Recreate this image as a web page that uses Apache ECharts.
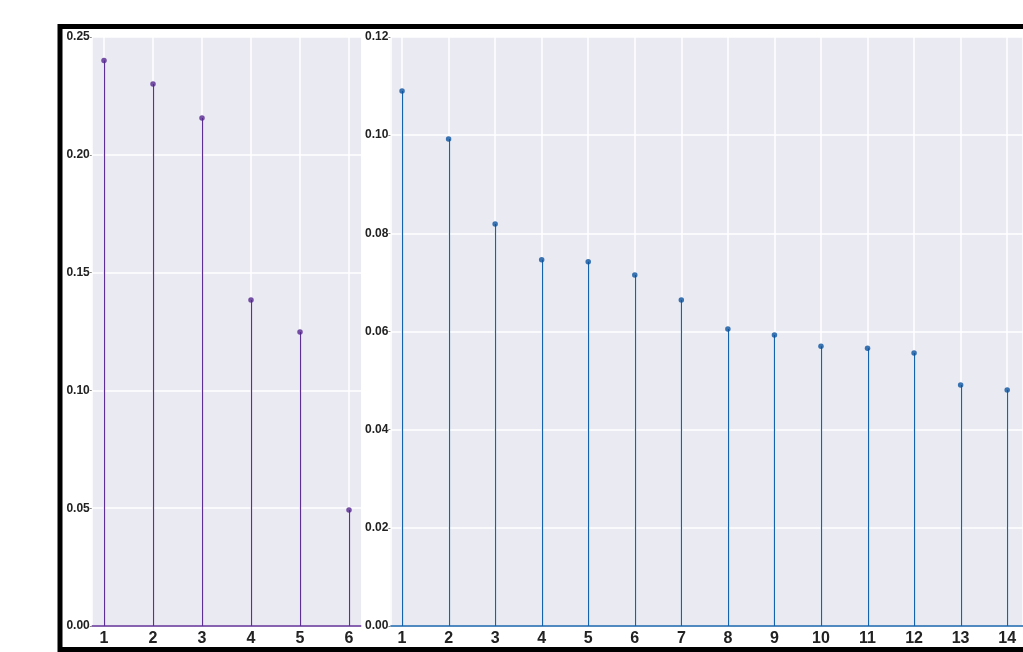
<!DOCTYPE html>
<html>
<head>
<meta charset="utf-8">
<script src="https://cdn.jsdelivr.net/npm/echarts@6/dist/echarts.min.js"></script>
<style>
html,body{margin:0;padding:0;background:#fff;}
#chart{width:1023px;height:652px;}
</style>
</head>
<body>
<div id="chart"></div>
<script>
// ---- data ----
const leftCategories = [1, 2, 3, 4, 5, 6];
const leftValues = [0.240, 0.230, 0.2156, 0.1384, 0.1248, 0.0492];
const rightCategories = [1, 2, 3, 4, 5, 6, 7, 8, 9, 10, 11, 12, 13, 14];
const rightValues = [0.1090, 0.0992, 0.0819, 0.0746, 0.0742, 0.0715, 0.0664, 0.0605, 0.0593, 0.0570, 0.0566, 0.0556, 0.0491, 0.0481];

const FONT = "'Liberation Sans Narrow', 'Arial Narrow', 'Liberation Sans', sans-serif";
const PURPLE = '#5f2f98', PURPLE_DOT = '#55268e';
const BLUE = '#1663ad', BLUE_DOT = '#0b539e';

function pairs(cats, vals) { return cats.map((c, i) => [c, vals[i]]); }

function stemSeries(idx, cats, vals, color, dot) {
  return [
    {
      type: 'custom', xAxisIndex: idx, yAxisIndex: idx, silent: true,
      data: pairs(cats, vals),
      renderItem: function (params, api) {
        const p0 = api.coord([api.value(0), 0]);
        const p1 = api.coord([api.value(0), api.value(1)]);
        const x = Math.round(p0[0]) + 0.5;
        return { type: 'line', shape: { x1: x, y1: p0[1], x2: x, y2: p1[1] },
                 style: { stroke: color, lineWidth: 1.2 } };
      },
      markLine: {
        silent: true, symbol: 'none', label: { show: false },
        lineStyle: { color: color, width: 1.5, type: 'solid' },
        data: [{ yAxis: 0 }]
      },
      z: 3
    },
    {
      type: 'scatter', xAxisIndex: idx, yAxisIndex: idx, silent: true,
      data: pairs(cats, vals), symbol: 'circle', symbolSize: 5.5,
      itemStyle: { color: dot }, z: 4
    }
  ];
}

function xAxis(idx, min, max) {
  return {
    type: 'value', gridIndex: idx, min: min, max: max,
    minInterval: 1, maxInterval: 1,
    axisLine: { show: false },
    axisTick: { show: false },
    splitLine: { show: true, lineStyle: { color: '#ffffff', width: 1.5 } },
    axisLabel: {
      showMinLabel: false, showMaxLabel: false, margin: 5,
      fontFamily: FONT, fontWeight: 'bold', fontSize: 16, color: '#222',
      formatter: v => (Math.abs(v - Math.round(v)) < 1e-9 ? String(Math.round(v)) : '')
    }
  };
}

function yAxis(idx, max, interval) {
  return {
    type: 'value', gridIndex: idx, min: 0, max: max, interval: interval,
    axisLine: { show: false },
    axisTick: { show: true, length: 2, lineStyle: { color: '#888', width: 1 } },
    splitLine: { show: true, lineStyle: { color: '#ffffff', width: 1.5 } },
    axisLabel: {
      margin: 2, fontFamily: FONT, fontWeight: 'bold', fontSize: 12, color: '#222',
      formatter: v => v.toFixed(2)
    }
  };
}

const chart = echarts.init(document.getElementById('chart'), null, { renderer: 'canvas' });
chart.setOption({
  animation: false,
  backgroundColor: '#ffffff',
  grid: [
    { left: 91.75, top: 37, width: 269.5, height: 589, show: true, backgroundColor: '#eaeaf2', borderWidth: 0 },
    { left: 390.4, top: 37, width: 632.6, height: 589, show: true, backgroundColor: '#eaeaf2', borderWidth: 0 }
  ],
  xAxis: [xAxis(0, 0.75, 6.25), xAxis(1, 0.75, 14.34)],
  yAxis: [yAxis(0, 0.25, 0.05), yAxis(1, 0.12, 0.02)],
  series: [].concat(
    stemSeries(0, leftCategories, leftValues, PURPLE, PURPLE_DOT),
    stemSeries(1, rightCategories, rightValues, BLUE, BLUE_DOT)
  ),
  graphic: [
    {
      type: 'rect', silent: true, z: 100,
      shape: { x: 60, y: 26.5, width: 1100, height: 623 },
      style: { fill: 'none', stroke: '#000', lineWidth: 5 }
    }
  ]
});
</script>
</body>
</html>
